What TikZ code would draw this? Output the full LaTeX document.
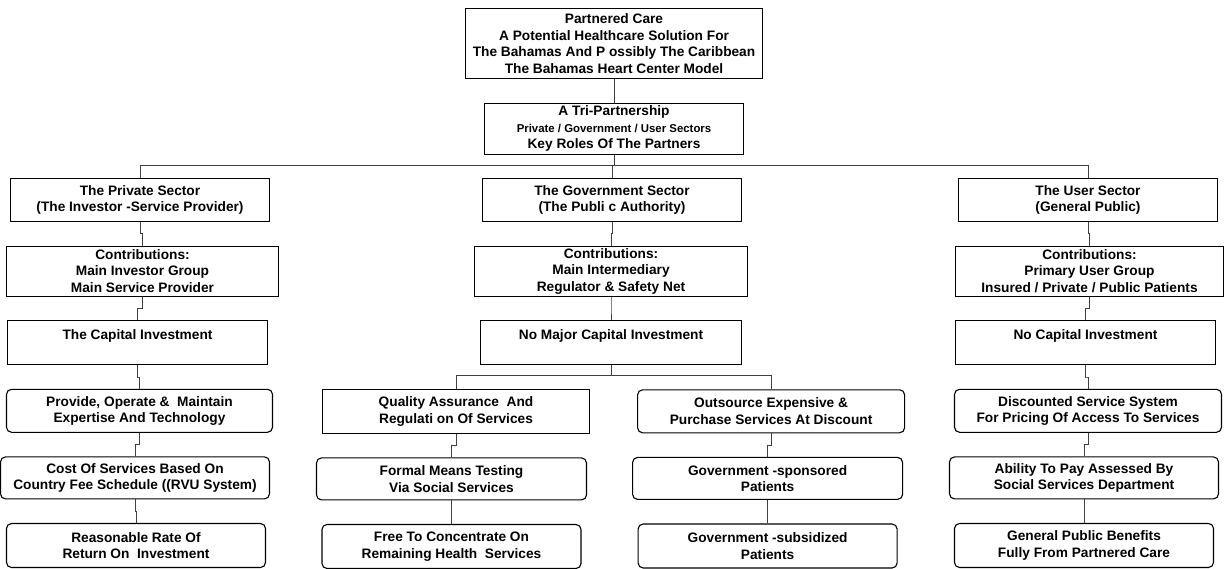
\documentclass[tikz,border=0pt]{standalone}
\usepackage{fontspec}
\setmainfont{Liberation Sans}
\usetikzlibrary{positioning,calc}
\newcommand{\smallfont}{\fontsize{11.4}{14}\selectfont}

\begin{document}
\begin{tikzpicture}[
  x=1pt, y=-1pt,
  node distance=23.5pt and 47pt,
  box/.style={rectangle, draw=black, line width=1.1pt, minimum width=259pt,
              minimum height=43pt, inner sep=1pt, align=center,
              font=\bfseries\fontsize{13.7}{16.5}\selectfont},
  rbox/.style={box, rounded corners=5pt},
  conbox/.style={box, minimum height=50pt, inner sep=0pt},
  line/.style={draw=black!75, line width=0.9pt},
  link/.style={line, to path={|- ($(\tikztostart)!.5!(\tikztotarget)$) -| (\tikztotarget)}}
]
\useasboundingbox (0,0) rectangle (1225,569);

%% ---- Top ----
\node[box, minimum width=297pt, minimum height=70pt] (care) at (614,43.5)
  {Partnered Care\\A Potential Healthcare Solution For\\The Bahamas And P ossibly The Caribbean\\The Bahamas Heart Center Model};
\node[box, below=of care, minimum height=51pt] (tri)
  {A Tri-Partnership\\\smallfont Private / Government / User Sectors\\Key Roles Of The Partners};

%% ---- Sectors ----
\node[box] (psec) at (140,200)  {The Private Sector\\(The Investor -Service Provider)};
\node[box] (gsec) at (612,200)  {The Government Sector\\(The Publi c Authority)};
\node[box] (usec) at (1088,200) {The User Sector\\(General Public)};

%% ---- Private column (left) ----
\node[conbox, below=of psec, xshift=2.5pt, minimum width=272pt] (pcon)
  {Contributions:\\Main Investor Group\\Main Service Provider};
\node[box, below=of pcon, xshift=-5pt, minimum width=260pt, minimum height=44pt] (pcap)
  {The Capital Investment\\~};
\node[rbox, below=of pcap, xshift=2pt, minimum width=266pt] (pserv)
  {Provide, Operate \&~ Maintain\\Expertise And Technology};
\node[rbox, below=of pserv, xshift=-4.5pt, minimum width=269pt, minimum height=42pt] (pcost)
  {Cost Of Services Based On\\Country Fee Schedule ((RVU System)};
\node[rbox, below=of pcost, xshift=1pt, minimum height=44pt] (pret)
  {Reasonable Rate Of\\Return On~ Investment};

%% ---- Government column (centre) ----
\node[conbox, below=of gsec, xshift=-1pt, minimum width=273pt] (gcon)
  {Contributions:\\Main Intermediary\\Regulator \& Safety Net};
\node[box, below=of gcon, minimum width=261pt, minimum height=44pt] (gcap)
  {No Major Capital Investment\\~};
\node[box, below=of gcap, xshift=-155pt, minimum width=267pt, minimum height=44pt] (qa)
  {Quality Assurance~ And\\Regulati on Of Services};
\node[rbox, right=of qa, minimum width=267pt] (outs)
  {Outsource Expensive \&\\Purchase Services At Discount};
\node[rbox, below=of qa, xshift=-4.5pt, minimum width=270pt, minimum height=42pt] (gform)
  {Formal Means Testing\\Via Social Services};
\node[rbox, below=of outs, xshift=-3.5pt, minimum width=270pt, minimum height=42pt] (gspon)
  {Government -sponsored\\Patients};
\node[rbox, below=of gform, minimum height=44pt] (gfree)
  {Free To Concentrate On\\Remaining Health~ Services};
\node[rbox, below=of gspon, minimum height=44pt] (gsub)
  {Government -subsidized\\Patients};

%% ---- User column (right) ----
\node[conbox, below=of usec, xshift=1.5pt, minimum width=268pt] (ucon)
  {Contributions:\\Primary User Group\\Insured / Private / Public Patients};
\node[box, below=of ucon, xshift=-4pt, minimum width=260pt, minimum height=44pt] (ucap)
  {No Capital Investment\\~};
\node[rbox, below=of ucap, xshift=2.5pt, minimum width=267pt] (udisc)
  {Discounted Service System\\For Pricing Of Access To Services};
\node[rbox, below=of udisc, xshift=-4pt, minimum width=269pt, minimum height=42pt] (uabil)
  {Ability To Pay Assessed By\\Social Services Department};
\node[rbox, below=of uabil, minimum height=44pt] (ugen)
  {General Public Benefits\\Fully From Partnered Care};

%% ---- Connectors ----
\draw[line] (care) -- (tri);
\draw[line] (tri.south) -- ++(0,11) coordinate (bus);
\draw[line] (psec.north) |- (bus) -| (usec.north);
\draw[line] (bus) -| (gsec.north);
% private
\draw[link] (psec.south) to (pcon.north);
\draw[link] (pcon.south) to (pcap.north);
\draw[link] (pcap.south) to (pserv.north);
\draw[link] (pserv.south) to (pcost.north);
\draw[link] (pcost.south) to (pret.north);
% government
\draw[link] (gsec.south) to (gcon.north);
\draw[link] (gcon.south) to (gcap.north);
\draw[line] (gcap.south) -- ++(0,10) coordinate (gsplit);
\draw[line] (qa.north) |- (gsplit) -| (outs.north);
\draw[link] (qa.south) to (gform.north);
\draw[link] (gform.south) to (gfree.north);
\draw[link] (outs.south) to (gspon.north);
\draw[link] (gspon.south) to (gsub.north);
% user
\draw[link] (usec.south) to (ucon.north);
\draw[link] (ucon.south) to (ucap.north);
\draw[link] (ucap.south) to (udisc.north);
\draw[link] (udisc.south) to (uabil.north);
\draw[link] (uabil.south) to (ugen.north);
\end{tikzpicture}
\end{document}
